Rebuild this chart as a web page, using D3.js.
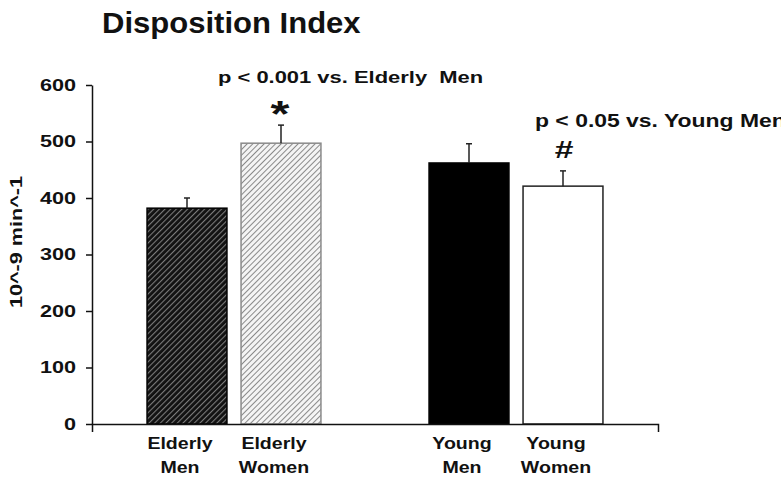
<!DOCTYPE html>
<html>
<head>
<meta charset="utf-8">
<script src="https://cdn.jsdelivr.net/npm/d3@7"></script>
<style>
  body { margin: 0; background: #fff; }
  text { font-family: "Liberation Sans", Arial, sans-serif; font-weight: bold; fill: #111; }
</style>
</head>
<body>
<div id="chart"></div>
<script>
// data
let categories = ["Elderly Men", "Elderly Women", "Young Men", "Young Women"];
let catLines = [["Elderly", "Men"], ["Elderly", "Women"], ["Young", "Men"], ["Young", "Women"]];
let values = [382, 497, 462, 421];
let errors = [18, 32, 34, 27];
let yTicks = [0, 100, 200, 300, 400, 500, 600];
// slots: an empty one makes the gap between the two groups
let slots = ["Elderly Men", "Elderly Women", "", "Young Men", "Young Women"];

let w = 781;
let h = 480;

// the original figure is stretched sideways, so text gets widened
function stretch(sel, sx){
  sel.each(function(){
    let len = this.getComputedTextLength();
    d3.select(this).attr("textLength", len * sx).attr("lengthAdjust", "spacingAndGlyphs");
  });
}

let svg = d3.select("#chart").append("svg")
  .attr("width", w)
  .attr("height", h);

// hatch patterns
let defs = svg.append("defs");
let darkHatch = defs.append("pattern")
  .attr("id", "hatchDark")
  .attr("patternUnits", "userSpaceOnUse")
  .attr("width", 4).attr("height", 4)
  .attr("patternTransform", "rotate(45)");
darkHatch.append("rect").attr("width", 4).attr("height", 4).attr("fill", "#111");
darkHatch.append("line").attr("x1", 0).attr("y1", 0).attr("x2", 0).attr("y2", 4)
  .attr("stroke", "#7a7a7a").attr("stroke-width", 2.2);

let lightHatch = defs.append("pattern")
  .attr("id", "hatchLight")
  .attr("patternUnits", "userSpaceOnUse")
  .attr("width", 4).attr("height", 4)
  .attr("patternTransform", "rotate(45)");
lightHatch.append("rect").attr("width", 4).attr("height", 4).attr("fill", "#f4f4f4");
lightHatch.append("line").attr("x1", 0).attr("y1", 0).attr("x2", 0).attr("y2", 4)
  .attr("stroke", "#8a8a8a").attr("stroke-width", 2);

let fills = ["url(#hatchDark)", "url(#hatchLight)", "#000", "#fff"];
let strokes = ["#000", "#8a8a8a", "#000", "#222"];

// scales
let xScale = d3.scaleBand().domain(slots).range([140, 610]).paddingInner(0.15).paddingOuter(0.075);
let yScale = d3.scaleLinear().domain([0, 600]).range([424, 85]);

// title
svg.append("text")
  .attr("x", 102).attr("y", 33)
  .style("font-size", "29px")
  .text("Disposition Index")
  .call(stretch, 1.07);

// y axis
let yAxis = d3.axisLeft(yScale).tickValues(yTicks).tickSize(6).tickSizeOuter(0).tickPadding(10);
let gy = svg.append("g").attr("transform", "translate(92,0)").call(yAxis);
gy.selectAll("text").style("font-size", "16px").attr("fill", "#111").call(stretch, 1.35);
gy.selectAll("line, path").attr("stroke", "#111").attr("stroke-width", 1.5);

svg.append("text")
  .attr("transform", "translate(22,242) rotate(-90)")
  .attr("text-anchor", "middle")
  .style("font-size", "16px")
  .text("10^-9 min^-1")
  .call(stretch, 1.35);

// bars
let bars = svg.selectAll(".bar").data(categories).enter()
  .append("rect")
  .attr("class", "bar")
  .attr("x", d => xScale(d))
  .attr("y", (d, i) => yScale(values[i]))
  .attr("width", xScale.bandwidth())
  .attr("height", (d, i) => yScale(0) - yScale(values[i]))
  .attr("fill", (d, i) => fills[i])
  .attr("stroke", (d, i) => strokes[i])
  .attr("stroke-width", 1.5);

// error bars
let errs = svg.selectAll(".err").data(categories).enter().append("g").attr("class", "err");
errs.append("line")
  .attr("x1", d => xScale(d) + xScale.bandwidth() / 2)
  .attr("x2", d => xScale(d) + xScale.bandwidth() / 2)
  .attr("y1", (d, i) => yScale(values[i]))
  .attr("y2", (d, i) => yScale(values[i] + errors[i]))
  .attr("stroke", "#222").attr("stroke-width", 1.5);
errs.append("line")
  .attr("x1", d => xScale(d) + xScale.bandwidth() / 2 - 3)
  .attr("x2", d => xScale(d) + xScale.bandwidth() / 2 + 3)
  .attr("y1", (d, i) => yScale(values[i] + errors[i]))
  .attr("y2", (d, i) => yScale(values[i] + errors[i]))
  .attr("stroke", "#222").attr("stroke-width", 1.5);

// x axis, ticks only at both ends
let xFrame = d3.scaleLinear().domain([0, 1]).range([92, 658]);
let gx = svg.append("g").attr("transform", "translate(0,424)")
  .call(d3.axisBottom(xFrame).tickValues([]).tickSizeOuter(8));
gx.selectAll("path").attr("stroke", "#111").attr("stroke-width", 1.5);

// category labels
let labels = svg.selectAll(".cat").data(categories).enter()
  .append("text")
  .attr("class", "cat")
  .attr("text-anchor", "middle")
  .style("font-size", "17px");
labels.each(function(d, i) {
  let cx = xScale(d) + xScale.bandwidth() / 2 - 7;
  d3.select(this).selectAll("tspan").data(catLines[i]).enter()
    .append("tspan")
    .attr("x", cx)
    .attr("y", (t, j) => 449 + j * 24)
    .text(t => t)
    .call(stretch, 1.15);
});

// significance notes
let cEW = xScale("Elderly Women") + xScale.bandwidth() / 2;
let cYW = xScale("Young Women") + xScale.bandwidth() / 2;
svg.append("text").attr("x", cEW - 63).attr("y", 83).style("font-size", "17px")
  .attr("xml:space", "preserve")
  .text("p < 0.001 vs. Elderly  Men")
  .call(stretch, 1.29);
svg.append("text").attr("x", cEW - 1).attr("y", yScale(values[1] + errors[1]) + 2)
  .attr("text-anchor", "middle").style("font-size", "36px").text("*")
  .call(stretch, 1.35);

svg.append("text").attr("x", cYW - 28).attr("y", 127).style("font-size", "17.5px")
  .text("p < 0.05 vs. Young Men")
  .call(stretch, 1.31);
svg.append("text").attr("x", cYW + 1).attr("y", yScale(values[3] + errors[3]) - 13)
  .attr("text-anchor", "middle").style("font-size", "24px").text("#")
  .call(stretch, 1.4);
</script>
</body>
</html>
